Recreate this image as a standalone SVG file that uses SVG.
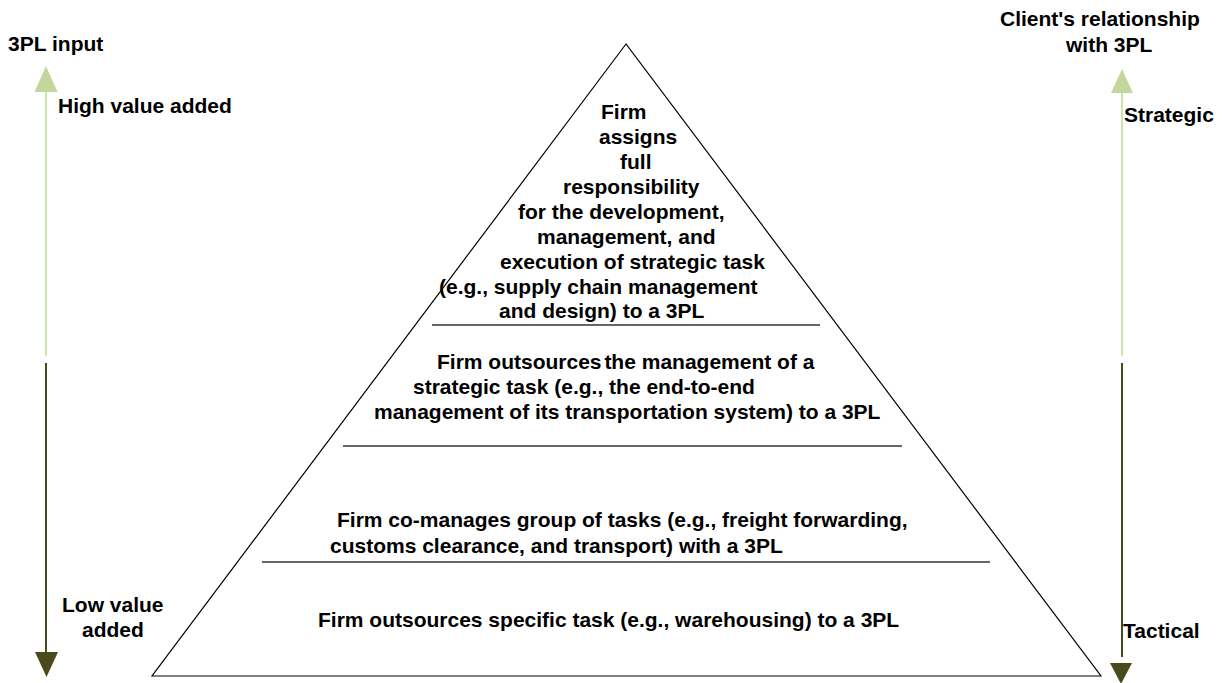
<svg xmlns="http://www.w3.org/2000/svg" width="1226" height="683" viewBox="0 0 1226 683">
<style>
text{font-family:"Liberation Sans",Arial,sans-serif;font-weight:bold;font-size:21px;fill:#000}
.sep{stroke:#333;stroke-width:1.3}
.lg{stroke:#c0de9a;stroke-width:1.6}
.dk{stroke:#4a4b1c;stroke-width:2}
.lgh{fill:#c3d69b}
.dkh{fill:#4a4b1c}
</style>
<rect width="1226" height="683" fill="#fff"/>
<g id="pyramid">
<polygon points="626,44 152,676 1101,676" fill="#fff" stroke="#000" stroke-width="1.2"/>
</g>
<g id="connectors">
<line class="sep" x1="432" y1="325" x2="820" y2="325"/>
<line class="sep" x1="343" y1="446" x2="902" y2="446"/>
<line class="sep" x1="262" y1="562" x2="990" y2="562"/>
<line class="lg" x1="46" y1="92" x2="46" y2="356"/>
<polygon class="lgh" points="46,66 34.5,92 57.5,92"/>
<line class="dk" x1="46" y1="363" x2="46" y2="652"/>
<polygon class="dkh" points="35,652 58,652 46.5,677"/>
<line class="lg" x1="1122" y1="93" x2="1122" y2="356"/>
<polygon class="lgh" points="1122,69 1111,93 1133,93"/>
<line class="dk" x1="1122" y1="363" x2="1122" y2="657"/>
<polygon class="dkh" points="1110,663 1132,663 1121,684"/>
</g>
<g id="tier1">
<text x="601" y="119">Firm</text>
<text x="599" y="144">assigns</text>
<text x="620" y="169">full</text>
<text x="563" y="194">responsibility</text>
<text x="518" y="219">for the development,</text>
<text x="537" y="244">management, and</text>
<text x="500" y="269">execution of strategic task</text>
<text x="439" y="294">(e.g., supply chain management</text>
<text x="499" y="318">and design) to a 3PL</text>
</g>
<g id="tier2">
<text x="437" y="369">Firm outsources <tspan dx="-3">the management of a</tspan></text>
<text x="413" y="394">strategic task (e.g., the end-to-end</text>
<text x="374" y="419">management of its transportation system) to a 3PL</text>
</g>
<g id="tier3">
<text x="337" y="527">Firm co-manages group of tasks (e.g., freight forwarding,</text>
<text x="330" y="553">customs clearance, and transport) with a 3PL</text>
</g>
<g id="tier4">
<text x="318" y="627">Firm outsources specific task (e.g., warehousing) to a 3PL</text>
</g>
<g id="left-labels">
<text x="8" y="51">3PL input</text>
<text x="58" y="113">High value added</text>
<text x="62" y="612">Low value</text>
<text x="82" y="637">added</text>
</g>
<g id="right-labels">
<text x="1000" y="26">Client's relationship</text>
<text x="1066" y="52">with 3PL</text>
<text x="1124" y="122">Strategic</text>
<text x="1123" y="638">Tactical</text>
</g>
</svg>
